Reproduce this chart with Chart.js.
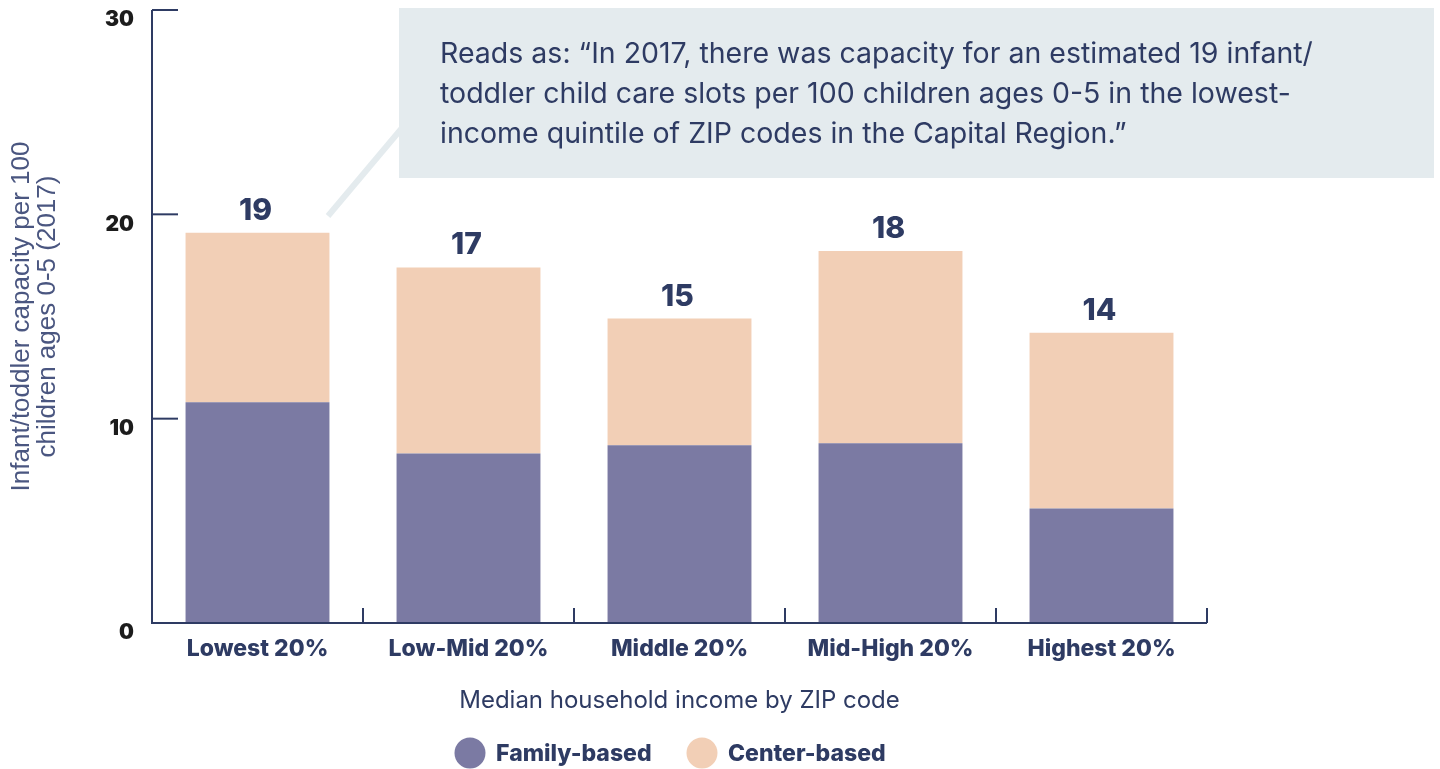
<!DOCTYPE html>
<html>
<head>
<meta charset="utf-8">
<script src="https://cdn.jsdelivr.net/npm/chart.js@4.4.0/dist/chart.umd.min.js"></script>
<style>
  body { margin: 0; background: #fff; }
  #wrap { width: 1440px; height: 769px; }
</style>
</head>
<body>
<div id="wrap"><canvas id="chart" width="1440" height="769"></canvas></div>
<script>
const categories = ["Lowest 20%", "Low-Mid 20%", "Middle 20%", "Mid-High 20%", "Highest 20%"];
const familyBased = [10.8, 8.3, 8.7, 8.8, 5.6];
const centerBased = [8.3, 9.1, 6.2, 9.4, 8.6];
const yTicks = [0, 10, 20, 30];
const noteLines = [
    "Reads as: \u201cIn 2017, there was capacity for an estimated 19 infant/",
    "toddler child care slots per 100 children ages 0-5 in the lowest-",
    "income quintile of ZIP codes in the Capital Region.\u201d"
];

const NAVY = "#2e3b63";
const PURPLE = "#7b7aa3";
const PEACH = "#f2cfb6";
const NOTE_BG = "#e4ebee";
const BOLD = "'Inter', sans-serif";

Chart.defaults.font.family = "'Inter', sans-serif";

// axes, tick marks, totals, legend and the note box
const decorations = {
    id: "decorations",
    afterDatasetsDraw(chart) {
        const ctx = chart.ctx;
        const x = chart.scales.x, y = chart.scales.y;
        const area = chart.chartArea;
        ctx.save();
        ctx.strokeStyle = NAVY;
        ctx.lineWidth = 2;
        ctx.beginPath();
        ctx.moveTo(area.left, y.getPixelForValue(30));
        ctx.lineTo(area.left, area.bottom);
        ctx.lineTo(area.right, area.bottom);
        ctx.stroke();
        yTicks.forEach(v => {
            if (v === 0) return;
            const py = y.getPixelForValue(v);
            ctx.beginPath();
            ctx.moveTo(area.left, py);
            ctx.lineTo(area.left + 26, py);
            ctx.stroke();
        });
        categories.forEach((c, i) => {
            const px = i < categories.length - 1
                ? (x.getPixelForValue(i) + x.getPixelForValue(i + 1)) / 2
                : area.right;
            ctx.beginPath();
            ctx.moveTo(px, area.bottom);
            ctx.lineTo(px, area.bottom - 15);
            ctx.stroke();
        });

        // totals
        ctx.fillStyle = NAVY;
        ctx.font = "800 30px " + BOLD;
        ctx.textAlign = "center";
        ctx.textBaseline = "alphabetic";
        categories.forEach((c, i) => {
            const total = familyBased[i] + centerBased[i];
            ctx.fillText(String(Math.round(total)), x.getPixelForValue(i) - 2, y.getPixelForValue(total) - 13);
        });

        // legend
        const items = chart.data.datasets.map(d => ({ label: d.label, color: d.backgroundColor }));
        const lx = [470, 702];
        const ly = 753;
        ctx.font = "800 23px " + BOLD;
        ctx.textAlign = "left";
        ctx.textBaseline = "middle";
        items.forEach((it, i) => {
            ctx.fillStyle = it.color;
            ctx.beginPath();
            ctx.arc(lx[i], ly, 15.5, 0, Math.PI * 2);
            ctx.fill();
            ctx.fillStyle = NAVY;
            ctx.fillText(it.label, lx[i] + 26, ly + 1);
        });

        // note box with callout
        ctx.strokeStyle = NOTE_BG;
        ctx.lineWidth = 6;
        ctx.beginPath();
        ctx.moveTo(328, 216);
        ctx.lineTo(402, 128);
        ctx.stroke();
        ctx.fillStyle = NOTE_BG;
        ctx.fillRect(399, 8, 1035, 170);
        ctx.fillStyle = NAVY;
        ctx.font = "400 28.5px 'Inter', sans-serif";
        ctx.textBaseline = "alphabetic";
        noteLines.forEach((t, i) => ctx.fillText(t, 440, 63 + i * 40));
        ctx.restore();
    }
};

new Chart(document.getElementById("chart"), {
    type: "bar",
    data: {
        labels: categories,
        datasets: [
            { label: "Family-based", data: familyBased, backgroundColor: PURPLE },
            { label: "Center-based", data: centerBased, backgroundColor: PEACH }
        ]
    },
    options: {
        responsive: false,
        animation: false,
        layout: { padding: { left: 0, top: 10, right: 233, bottom: 46 } },
        datasets: { bar: { categoryPercentage: 1, barPercentage: 0.682 } },
        plugins: { legend: { display: false }, tooltip: { enabled: false } },
        scales: {
            x: {
                stacked: true,
                border: { display: false },
                grid: { display: false, drawTicks: false },
                ticks: { color: NAVY, font: { family: BOLD, size: 23, weight: 800 }, padding: 12 },
                title: {
                    display: true,
                    text: "Median household income by ZIP code",
                    color: NAVY,
                    font: { size: 24, weight: 400 },
                    padding: { top: 0, bottom: 8 }
                },
                afterFit(s) { s.height = 100; s.paddingLeft = 0; s.paddingRight = 0; }
            },
            y: {
                stacked: true,
                min: 0,
                max: 30,
                border: { display: false },
                grid: { display: false, drawTicks: false },
                ticks: {
                    stepSize: 10,
                    color: "#1c1c1c",
                    font: { family: BOLD, size: 21, weight: 900 },
                    padding: 18,
                    labelOffset: 10
                },
                title: {
                    display: true,
                    text: ["Infant/toddler capacity per 100", "children ages 0-5 (2017)"],
                    color: "#4a5680",
                    font: { family: "'Liberation Sans', Arial, sans-serif", size: 26, weight: 400, lineHeight: 1.0 },
                    padding: { top: 9, bottom: 0 }
                },
                afterFit(s) { s.width = 152; s.paddingTop = 0; s.paddingBottom = 0; }
            }
        }
    },
    plugins: [decorations]
});
</script>
</body>
</html>
